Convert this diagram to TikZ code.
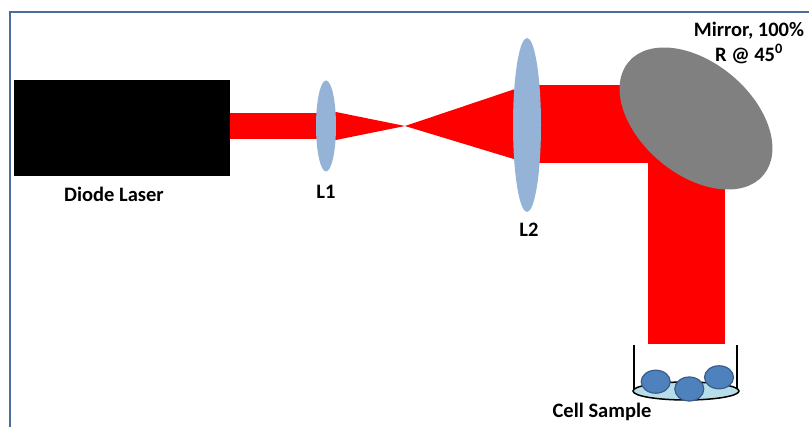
\documentclass[tikz,border=0pt]{standalone}
\usepackage{fontspec}
\setmainfont{Carlito}
\usetikzlibrary{shapes.geometric}
\definecolor{frameblue}{HTML}{4A6D9C}
\definecolor{beamred}{HTML}{FF0000}
\definecolor{lensblue}{HTML}{95B3D7}
\definecolor{mirrorgray}{HTML}{808080}
\definecolor{dishblue}{HTML}{B7DEE8}
\definecolor{cellblue}{HTML}{4F81BD}
\definecolor{celledge}{HTML}{385D8A}
\begin{document}
\begin{tikzpicture}[x=1pt,y=-1pt,
  lbl/.style={font=\fontsize{20.5}{25}\selectfont\bfseries, inner sep=0pt, align=center},
  lens/.style={ellipse, fill=lensblue, inner sep=0pt},
  beam/.style={fill=beamred},
  cell/.style={ellipse, fill=cellblue, draw=celledge, line width=1.2pt, inner sep=0pt,
    minimum width=29pt, minimum height=23pt}]
\useasboundingbox (0,0) rectangle (809,427);

% frame
\draw[frameblue, line width=2pt] (10,427) -- (10,12) -- (809,12);

% laser head
\node[fill=black, minimum width=216pt, minimum height=96pt, inner sep=0pt,
  anchor=north west] (laser) at (14,80) {};

% beam path
\fill[beam] (230,113) rectangle (326,139);
\fill[beam] (326,110) -- (405,126) -- (326,142) -- cycle;
\fill[beam] (405,126) -- (527,85) -- (527,163) -- cycle;
\fill[beam] (527,85) rectangle (690,163);
\fill[beam] (648,140) rectangle (725,344);

% lenses
\node[lens, minimum width=20pt, minimum height=91pt] (L1) at (326,126) {};
\node[lens, minimum width=28pt, minimum height=174pt] (L2) at (527,125) {};

% folding mirror
\node[ellipse, fill=mirrorgray, inner sep=0pt, minimum width=176pt,
  minimum height=112pt, rotate=-40] (mirror) at (696,118.5) {};

% sample dish
\coordinate (wl) at (634,345);
\coordinate (wr) at (737,345);
\draw[line width=2pt] (wl) -- ++(0,45);
\draw[line width=2pt] (wr) -- ++(0,45);
\node[ellipse, fill=dishblue, draw=black, line width=1.5pt, inner sep=0pt,
  minimum width=106pt, minimum height=18pt] (dish) at (686,391) {};
\node[cell] (c1) at (655.7,381.7) {};
\node[cell, minimum height=24pt] (c2) at (689.3,389) {};
\node[cell] (c3) at (719,377.3) {};

% labels
\node[lbl] (tlaser) at (114,194) {Diode Laser};
\node[lbl] (tL1) at (326,192) {L1};
\node[lbl] (tL2) at (529,230) {L2};
\node[lbl] (tmirror) at (749,43) {Mirror, 100\%\\R @ 45\textsuperscript{0}};
\node[lbl] (tcell) at (602,412) {Cell Sample};
\end{tikzpicture}
\end{document}
